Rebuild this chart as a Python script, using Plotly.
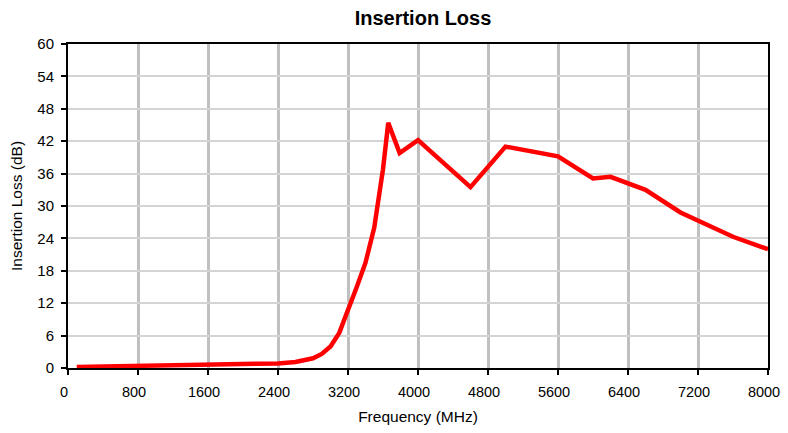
import plotly.graph_objects as go

freq_mhz = [100, 400, 800, 1200, 1600, 2000, 2400, 2600, 2700, 2800, 2900, 3000,
            3100, 3200, 3300, 3400, 3500, 3600, 3660, 3790, 4000, 4600, 5000,
            5600, 6000, 6200, 6600, 7000, 7600, 8000]
loss_db = [0.2, 0.3, 0.35, 0.45, 0.55, 0.65, 0.85, 1.1, 1.4, 1.8, 2.6, 4.0,
           6.5, 10.5, 15.0, 19.5, 26.0, 36.8, 45.4, 39.8, 42.2, 33.5, 41.0,
           39.2, 35.1, 35.4, 33.0, 28.8, 24.3, 22.0]

x_ticks = [0, 800, 1600, 2400, 3200, 4000, 4800, 5600, 6400, 7200, 8000]
y_ticks = [0, 6, 12, 18, 24, 30, 36, 42, 48, 54, 60]

font = "Liberation Sans, Arial, sans-serif"
W, H = 780, 417  # page has an 8px body margin

fig = go.Figure()
fig.add_trace(go.Scatter(x=freq_mhz, y=loss_db, mode="lines",
                         line=dict(color="#ff0000", width=4.5), showlegend=False))

fig.update_layout(
    width=W, height=H,
    margin=dict(l=60, r=20, t=36, b=57, autoexpand=False),
    paper_bgcolor="white", plot_bgcolor="white",
    font=dict(family=font, size=15, color="black"),
    title=dict(text="<b>Insertion Loss</b>", x=415 / W, xanchor="center",
               y=1 - 9.5 / H, yanchor="middle", font=dict(size=20)),
)
fig.update_xaxes(range=[0, 8000], tickvals=x_ticks, ticktext=[str(v) for v in x_ticks],
                 tickfont=dict(size=14.5),
                 showgrid=True, gridcolor="#c0c0c0", gridwidth=3,
                 showline=True, linecolor="black", linewidth=2, mirror=True,
                 ticks="outside", ticklen=5, tickwidth=2, tickcolor="black",
                 ticklabelstandoff=5, ticklabelshift=-4, ticklabeloverflow="allow",
                 title=dict(text="Frequency (MHz)", standoff=12, font=dict(size=15.5)),
                 zeroline=False, automargin=False)
fig.update_yaxes(range=[0, 60], tickvals=y_ticks, ticktext=[str(v) for v in y_ticks],
                 showgrid=True, gridcolor="#d4d4d4", gridwidth=1.5,
                 showline=True, linecolor="black", linewidth=2, mirror=True,
                 ticks="outside", ticklen=5, tickwidth=2, tickcolor="black",
                 ticklabelstandoff=4,
                 title=dict(text="Insertion Loss (dB)", standoff=14, font=dict(size=15.5)),
                 zeroline=False, automargin=False)

fig.write_html("out.html")
